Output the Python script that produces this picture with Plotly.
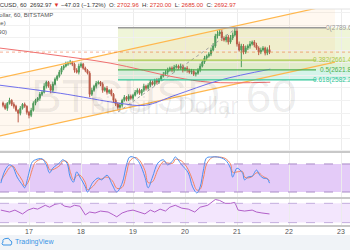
import plotly.graph_objects as go

W, H = 350, 250
def px(x): return x / W
def py(y): return 1 - y / H

# ---------------- data ----------------
DAY0 = 16 + 12 / 24          # time of first hourly candle (day of month)
first_open = 2490.0
closes = [2481, 2469, 2489, 2501, 2485, 2477, 2461, 2449, 2469, 2485,
          2477, 2453, 2441, 2461, 2489, 2501, 2509, 2525, 2533, 2557,
          2573, 2557, 2541, 2565, 2585, 2597, 2613, 2629, 2637, 2645,
          2649, 2653, 2645, 2621, 2613, 2637, 2645, 2629, 2621, 2609,
          2525, 2541, 2557, 2569, 2573, 2565, 2541, 2549, 2533, 2541,
          2525, 2501, 2485, 2473, 2481, 2501, 2513, 2505, 2517, 2509,
          2521, 2533, 2541, 2529, 2541, 2557, 2549, 2561, 2573, 2565,
          2581, 2573, 2585, 2597, 2605, 2613, 2621, 2629, 2621, 2633,
          2637, 2629, 2637, 2621, 2629, 2621, 2613, 2617, 2605, 2609,
          2621, 2637, 2653, 2669, 2677, 2685, 2701, 2717, 2757, 2765,
          2773, 2749, 2741, 2753, 2733, 2749, 2761, 2777, 2725, 2701,
          2717, 2693, 2709, 2717, 2725, 2733, 2721, 2709, 2693, 2701,
          2709, 2689, 2702.96, 2692.97]
wick_up = [6, 8, 5, 10, 4, 8, 6, 4, 9, 5,
           7, 4, 6, 10, 8, 6, 5, 9, 7, 12,
           6, 5, 8, 10, 7, 6, 9, 8, 6, 10,
           7, 9, 5, 6, 8, 10, 7, 5, 6, 4,
           8, 10, 6, 9, 7, 5, 8, 6, 9, 4,
           6, 5, 7, 8, 10, 6, 9, 5, 8, 7,
           6, 9, 8, 7, 5, 10, 6, 8, 9, 7,
           6, 8, 5, 7, 9, 8, 10, 6, 7, 9,
           8, 6, 10, 7, 5, 8, 6, 9, 7, 6,
           8, 10, 7, 9, 6, 8, 10, 12, 9, 14,
           8, 10, 7, 9, 8, 12, 10, 12, 12, 10,
           9, 8, 10, 7, 12, 6, 8, 9, 7, 10,
           8, 6, 9, 17.04]
wick_dn = [8, 6, 10, 5, 7, 9, 6, 36, 8, 5,
           6, 9, 12, 7, 5, 8, 6, 10, 7, 5,
           9, 6, 12, 8, 5, 7, 6, 9, 8, 5,
           7, 6, 8, 10, 5, 9, 7, 6, 8, 5,
           12, 7, 6, 9, 5, 8, 10, 6, 9, 7,
           8, 10, 7, 12, 6, 9, 5, 8, 7, 6,
           9, 5, 8, 6, 10, 7, 9, 6, 8, 5,
           7, 9, 6, 8, 5, 7, 10, 6, 8, 9,
           6, 8, 7, 9, 5, 10, 6, 8, 7, 9,
           6, 8, 5, 7, 9, 6, 8, 5, 7, 10,
           8, 12, 6, 9, 10, 7, 8, 6, 10, 6,
           68, 9, 7, 8, 10, 6, 9, 7, 12, 8,
           6, 9, 8, 7.97]

# moving averages (day, price)
ma_red_days = [16.44, 17.50, 18.56, 19.81, 20.48, 21.64]
ma_red = [2709, 2681, 2649, 2593, 2573, 2573]
ma_blue_days = [16.44, 17.60, 18.75, 19.23, 19.81, 20.67, 21.64]
ma_blue = [2561, 2529, 2489, 2481, 2521, 2581, 2625]

# ascending channel drawing
channel_days = [16.40, 22.885]
channel_upper = [2588.0, 2884.0]
channel_lower = [2357.0, 2653.1]

# fibonacci retracement drawing
fib_start_day = 18.711
fib_end_day = 23.6
fib_high = 2789.60
fib_low = 2454.00
fib_ratios = [0, 0.382, 0.5, 0.618]
trend_days = [18.711, 21.0]
trend_prices = [2454.0, 2789.6]
last_price = 2692.97

# Stochastic RSI (hour index, value)
stoch_hours = [-1, 1, 3, 4.5, 6.5, 9, 10, 11.5, 13.5, 15,
               18, 20, 21.5, 23, 26.5, 27.5, 29.5, 31, 32.5, 34,
               35.5, 38, 39, 41.5, 44, 45.5, 48, 50.5, 52.5, 55,
               57, 58.5, 61, 63, 65.5, 67, 69, 71.5, 74, 76,
               78.5, 79.5, 82.5, 85.5, 87.5, 89.5, 91, 92.5, 94, 96.5,
               99, 102.5, 105, 106, 108, 110.5, 111.5, 113, 115, 117,
               118.5, 120, 122, 123]
stoch_k = [39, 67, 78, 74, 52, 35, 29, 52, 84, 89,
           91, 78, 61, 71, 84, 89, 82, 52, 41, 63,
           52, 31, 20, 41, 50, 46, 56, 35, 20, 39,
           78, 95, 93, 82, 52, 29, 52, 82, 89, 78,
           88, 95, 78, 61, 31, 18, 31, 67, 93, 95,
           95, 89, 71, 52, 71, 61, 46, 52, 54, 67,
           56, 50, 48, 39]
stoch_d = [45, 58, 72, 76, 62, 44, 33, 40, 68, 84,
           90, 84, 68, 68, 78, 86, 85, 64, 46, 55,
           56, 40, 25, 32, 46, 48, 52, 44, 28, 30,
           60, 86, 94, 88, 66, 40, 42, 68, 85, 82,
           82, 90, 86, 68, 45, 24, 26, 50, 80, 94,
           95, 92, 80, 62, 63, 64, 52, 50, 53, 61,
           60, 53, 49, 44]

# RSI (hour index, value)
rsi_hours = [-1, 3, 5.5, 9, 11.5, 14, 16, 19.5, 21.5, 24,
             26.5, 28.5, 31, 33, 35.5, 38, 40, 42.5, 45, 48.5,
             51, 52.5, 55, 57.5, 60, 63, 65.5, 68, 70, 72.5,
             75, 77, 79.5, 82.5, 85.5, 88.5, 91, 94.5, 98, 100,
             102.5, 105, 107, 108.5, 111.5, 115, 117, 119.5, 123]
rsi_vals = [56, 52, 56, 48, 56, 60, 58, 66, 62, 68,
            70, 64, 62, 66, 64, 46, 52, 50, 54, 52,
            46, 42, 50, 54, 56, 52, 48, 56, 52, 58,
            54, 62, 66, 60, 58, 52, 62, 66, 78, 76,
            70, 70, 72, 56, 54, 56, 52, 50, 48]

day_ticks = [17, 18, 19, 20, 21, 22, 23]

# ---------------- derived ----------------
n = len(closes)
days = [DAY0 + i / 24 for i in range(n)]
opens = [first_open] + closes[:-1]
highs = [max(o, c) + u for o, c, u in zip(opens, closes, wick_up)]
lows = [min(o, c) - d for o, c, d in zip(opens, closes, wick_dn)]
stoch_days = [DAY0 + h / 24 for h in stoch_hours]
rsi_days = [DAY0 + h / 24 for h in rsi_hours]
fib_prices = [fib_high - r * (fib_high - fib_low) for r in fib_ratios]

X0 = 17 - 29 / 52
X1 = X0 + 350 / 52
def day_at(pxx): return X0 + pxx / 52

fig = go.Figure()

# channel fill + lines
fig.add_trace(go.Scatter(x=channel_days, y=channel_lower, mode="lines",
                         line=dict(color="#ffb74d", width=1.2), hoverinfo="skip",
                         xaxis="x", yaxis="y"))
fig.add_trace(go.Scatter(x=channel_days, y=channel_upper, mode="lines",
                         line=dict(color="#ffb74d", width=1.2), fill="tonexty",
                         fillcolor="rgba(255,160,60,0.08)", hoverinfo="skip",
                         xaxis="x", yaxis="y"))

# trend dotted line of fib
fig.add_trace(go.Scatter(x=trend_days, y=trend_prices, mode="lines",
                         line=dict(color="#a0a0a0", width=1, dash="dot"),
                         hoverinfo="skip", xaxis="x", yaxis="y"))
# last price line
fig.add_trace(go.Scatter(x=[X0, X1], y=[last_price, last_price], mode="lines",
                         line=dict(color="rgba(235,110,60,0.55)", width=1, dash="dot"),
                         hoverinfo="skip", xaxis="x", yaxis="y"))

# moving averages
fig.add_trace(go.Scatter(x=ma_red_days, y=ma_red, mode="lines",
                         line=dict(color="#f07070", width=1, shape="spline"),
                         hoverinfo="skip", xaxis="x", yaxis="y"))
fig.add_trace(go.Scatter(x=ma_blue_days, y=ma_blue, mode="lines",
                         line=dict(color="#7070ee", width=1, shape="spline"),
                         hoverinfo="skip", xaxis="x", yaxis="y"))

# candles
fig.add_trace(go.Candlestick(x=days, open=opens, high=highs, low=lows, close=closes,
                             increasing=dict(line=dict(color="#3f9b5f", width=1),
                                             fillcolor="#3f9b5f"),
                             decreasing=dict(line=dict(color="#b5554a", width=1),
                                             fillcolor="#b5554a"),
                             whiskerwidth=0, xaxis="x", yaxis="y", hoverinfo="skip"))

# stochastic RSI
fig.add_trace(go.Scatter(x=stoch_days, y=stoch_d, mode="lines",
                         line=dict(color="#f4845f", width=1, shape="spline"),
                         hoverinfo="skip", xaxis="x2", yaxis="y2"))
fig.add_trace(go.Scatter(x=stoch_days, y=stoch_k, mode="lines",
                         line=dict(color="#4a90f0", width=1, shape="spline"),
                         hoverinfo="skip", xaxis="x2", yaxis="y2"))
# RSI
fig.add_trace(go.Scatter(x=rsi_days, y=rsi_vals, mode="lines",
                         line=dict(color="#b25fc9", width=1),
                         hoverinfo="skip", xaxis="x3", yaxis="y3"))

shapes = []
# fib zone fills
fib_fills = ["rgba(175,205,60,0.20)", "rgba(110,195,70,0.22)", "rgba(40,200,150,0.20)"]
for k in range(3):
    shapes.append(dict(type="rect", xref="x", yref="y", x0=fib_start_day, x1=fib_end_day,
                       y0=fib_prices[k + 1], y1=fib_prices[k], fillcolor=fib_fills[k],
                       line=dict(width=0), layer="below"))
fib_line_cols = ["#9a9a9a", "#a9c84a", "#4cb050", "#33c79a"]
fib_line_end = [day_at(326), day_at(316), day_at(316), day_at(316)]
for k in range(4):
    shapes.append(dict(type="line", xref="x", yref="y", x0=fib_start_day, x1=fib_line_end[k],
                       y0=fib_prices[k], y1=fib_prices[k],
                       line=dict(color=fib_line_cols[k], width=1.5 if k == 0 else 1.2)))

# stoch band
shapes.append(dict(type="rect", xref="paper", yref="y2", x0=0, x1=1, y0=20, y1=80,
                   fillcolor="#e4cbf8", line=dict(width=0), layer="below"))
for lv in (20, 80):
    shapes.append(dict(type="line", xref="paper", yref="y2", x0=0, x1=1, y0=lv, y1=lv,
                       line=dict(color="#a98bc6", width=1, dash="dash")))
# rsi band
shapes.append(dict(type="rect", xref="paper", yref="y3", x0=0, x1=1, y0=30, y1=70,
                   fillcolor="#f3e6fd", line=dict(width=0), layer="below"))
for lv in (30, 70):
    shapes.append(dict(type="line", xref="paper", yref="y3", x0=0, x1=1, y0=lv, y1=lv,
                       line=dict(color="#c3aede", width=1, dash="dash")))

# separators
for yy in (152, 198, 226):
    shapes.append(dict(type="line", xref="paper", yref="paper", x0=0, x1=1,
                       y0=py(yy), y1=py(yy), line=dict(color="#c8c8c8", width=2)))
shapes.append(dict(type="line", xref="paper", yref="paper", x0=0, x1=1,
                   y0=py(9), y1=py(9), line=dict(color="#e2e2e2", width=1)))
# bottom bar
shapes.append(dict(type="rect", xref="paper", yref="paper", x0=0, x1=1,
                   y0=0, y1=py(235), fillcolor="#f0f3f7", line=dict(width=0), layer="below"))
# TradingView cloud icon
cloud = (f"M {px(3)},{py(245)} L {px(11)},{py(245)} "
         f"Q {px(13)},{py(241)} {px(10)},{py(240.5)} "
         f"Q {px(9)},{py(237)} {px(6)},{py(238.5)} "
         f"Q {px(2)},{py(239)} {px(3)},{py(242)} "
         f"Q {px(1)},{py(244)} {px(3)},{py(245)} Z")
shapes.append(dict(type="path", xref="paper", yref="paper", path=cloud,
                   line=dict(color="#3a93e6", width=1), fillcolor="rgba(0,0,0,0)"))

ann = []
# watermark
ann.append(dict(text="BTCUSD, 60", x=px(164), y=py(68), xref="paper", yref="paper",
                showarrow=False, font=dict(size=46, color="rgba(0,0,0,0.075)",
                                           family="Liberation Sans")))
ann.append(dict(text="Bitcoin / Dollar", x=px(164), y=py(106), xref="paper", yref="paper",
                showarrow=False, font=dict(size=23, color="rgba(0,0,0,0.075)",
                                           family="Liberation Sans")))
# header
red = "#e0352b"
hdr = ("BTCUSD, 60  2692.97 <span style='color:%s'>▼</span> −47.03 (−1.72%%)  "
       "O: <span style='color:%s'>2702.96</span>  H: <span style='color:%s'>2720.00</span>  "
       "L: <span style='color:%s'>2685.00</span>  C: <span style='color:%s'>2692.97</span>"
       % (red, red, red, red, red))
ann.append(dict(text=hdr, x=px(-10), y=py(4.5), xref="paper", yref="paper", xanchor="left",
                yanchor="middle", showarrow=False,
                font=dict(size=6, color="#333333", family="Liberation Sans")))
ann.append(dict(text="Bitcoin / Dollar, 60, BITSTAMP", x=px(55), y=py(15), xref="paper",
                yref="paper", xanchor="right", yanchor="middle", showarrow=False,
                font=dict(size=6, color="#555555", family="Liberation Sans")))
ann.append(dict(text="MA (200, close)", x=px(8), y=py(23.5), xref="paper",
                yref="paper", xanchor="right", yanchor="middle", showarrow=False,
                font=dict(size=6, color="#555555", family="Liberation Sans")))
ann.append(dict(text="EMA (90)", x=px(9), y=py(31.5), xref="paper",
                yref="paper", xanchor="right", yanchor="middle", showarrow=False,
                font=dict(size=6, color="#555555", family="Liberation Sans")))
# fib labels
for k in range(4):
    ann.append(dict(text="%s(%.2f)" % (("%g" % fib_ratios[k]), fib_prices[k]),
                    x=px(359), y=fib_prices[k], xref="paper", yref="y",
                    xanchor="right", yanchor="middle", showarrow=False,
                    font=dict(size=6.5, color=fib_line_cols[k], family="Liberation Sans")))
# logo text
ann.append(dict(text="TradingView", x=px(13), y=py(242), xref="paper", yref="paper",
                xanchor="left", yanchor="middle", showarrow=False,
                font=dict(size=7, color="#3a93e6", family="Liberation Sans")))

xcommon = dict(range=[X0, X1], tickvals=day_ticks, showgrid=True, gridcolor="#ececec",
               gridwidth=1, zeroline=False, showline=False, ticks="", fixedrange=True)
fig.update_layout(
    width=W, height=H, margin=dict(l=0, r=0, t=0, b=0),
    paper_bgcolor="white", plot_bgcolor="rgba(0,0,0,0)", showlegend=False,
    xaxis=dict(**xcommon, anchor="y", showticklabels=False, rangeslider=dict(visible=False)),
    xaxis2=dict(**xcommon, anchor="y2", matches="x", showticklabels=False),
    xaxis3=dict(**xcommon, anchor="y3", matches="x", showticklabels=True,
                ticktext=[str(d) for d in day_ticks],
                tickfont=dict(size=7, color="#555555", family="Liberation Sans")),
    yaxis=dict(domain=[py(152), py(9)], range=[2295, 2864.7], dtick=50, tick0=0,
               showgrid=True, gridcolor="#f1f1f1", zeroline=False, showticklabels=False,
               fixedrange=True),
    yaxis2=dict(domain=[py(197), py(153)], range=[9.3, 103.5], showgrid=False,
                zeroline=False, showticklabels=False, fixedrange=True),
    yaxis3=dict(domain=[py(226), py(199)], range=[23, 79], showgrid=False,
                zeroline=False, showticklabels=False, fixedrange=True),
    shapes=shapes, annotations=ann,
)

fig.write_html("out.html")
